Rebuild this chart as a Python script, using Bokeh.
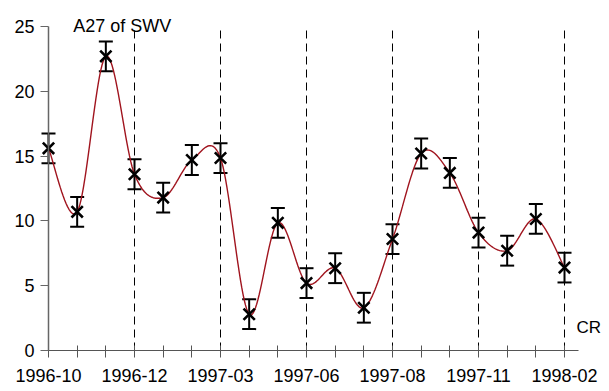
from bokeh.plotting import figure
from bokeh.models import (ColumnDataSource, Range1d, FixedTicker, Whisker, TeeHead, Label)
from bokeh.embed import file_html
from bokeh.resources import INLINE
import numpy as np

# Carrington rotation index along the x axis and the A27 index of solar wind velocity
cr_index = list(range(19))
a27_values = [15.6, 10.7, 22.7, 13.6, 11.8, 14.7, 14.85, 2.8, 9.85, 5.2,
              6.35, 3.3, 8.6, 15.2, 13.7, 9.1, 7.7, 10.15, 6.4]
a27_error = [1.15] * 19

# Dated ticks every third rotation
date_positions = [0, 3, 6, 9, 12, 15, 18]
date_labels = ["1996-10", "1996-12", "1997-03", "1997-06", "1997-08", "1997-11", "1998-02"]
y_ticks = [0, 5, 10, 15, 20, 25]

FONT = "Liberation Sans"
W, H = 609, 391
# Plot area geometry (pixels): origin and scale of the data axes
X0_PX, DX_PX = 48.0, 28.667
Y0_PX, DY_PX = 350.0, 12.96
X_AXIS_END = 18.49

# The frame spans the whole canvas so that marks near the axes are not cut
x_range = Range1d(-X0_PX / DX_PX, (W - X0_PX) / DX_PX)
y_range = Range1d(-(H - Y0_PX) / DY_PX, Y0_PX / DY_PX)

p = figure(width=W, height=H, output_backend="svg", toolbar_location=None,
           x_range=x_range, y_range=y_range,
           min_border_left=0, min_border_right=0, min_border_top=0, min_border_bottom=0)
p.outline_line_color = None
p.xgrid.grid_line_color = None
p.ygrid.grid_line_color = None
p.background_fill_color = "white"
p.border_fill_color = "white"

# Vertical dashed markers at the dated rotations
dashed = [d for d in date_positions if d != 0]
p.segment(x0=dashed, y0=[0] * len(dashed), x1=dashed, y1=[25] * len(dashed),
          line_color="black", line_width=1, line_dash="8 5")

# Smooth curve through the points (Catmull-Rom style Bezier segments)
xs = np.array(cr_index, dtype=float)
ys = np.array(a27_values, dtype=float)
n = len(xs)
cx, cy = [], []
t = np.linspace(0, 1, 24)
for i in range(n - 1):
    p0 = np.array([xs[max(i - 1, 0)], ys[max(i - 1, 0)]])
    p1 = np.array([xs[i], ys[i]])
    p2 = np.array([xs[i + 1], ys[i + 1]])
    p3 = np.array([xs[min(i + 2, n - 1)], ys[min(i + 2, n - 1)]])
    c1 = p1 + (p2 - p0) / 6.0
    c2 = p2 - (p3 - p1) / 6.0
    for tt in (t if i == 0 else t[1:]):
        b = ((1 - tt) ** 3) * p1 + 3 * ((1 - tt) ** 2) * tt * c1 + 3 * (1 - tt) * tt ** 2 * c2 + tt ** 3 * p2
        cx.append(b[0])
        cy.append(b[1])
p.line(cx, cy, line_color="#a0141e", line_width=1.4)

src = ColumnDataSource(dict(
    x=cr_index,
    y=a27_values,
    upper=[v + e for v, e in zip(a27_values, a27_error)],
    lower=[v - e for v, e in zip(a27_values, a27_error)],
))

whisker = Whisker(source=src, base="x", upper="upper", lower="lower",
                  line_color="black", line_width=2,
                  upper_head=TeeHead(size=14, line_width=2, line_color="black"),
                  lower_head=TeeHead(size=14, line_width=2, line_color="black"))
p.add_layout(whisker)

p.scatter(x="x", y="y", source=src, marker="x", size=16, line_width=2.6, line_color="black")

# Axes crossing at the origin
p.xaxis.fixed_location = 0
p.xaxis.bounds = (0, X_AXIS_END)
p.xaxis.ticker = FixedTicker(ticks=cr_index)
p.xaxis.major_label_overrides = {i: "" for i in cr_index}
p.xaxis.major_label_overrides.update({pos: lab for pos, lab in zip(date_positions, date_labels)})
p.xaxis.minor_tick_line_color = None
p.xaxis.major_tick_in = 5
p.xaxis.major_tick_out = 7
p.xaxis.axis_line_color = "#555555"
p.xaxis.major_tick_line_color = "#555555"
p.xaxis.major_label_standoff = 11
p.xaxis.major_label_text_font = FONT
p.xaxis.major_label_text_font_size = "18px"
p.xaxis.major_label_text_color = "black"

p.yaxis.fixed_location = 0
p.yaxis.bounds = (0, 25)
p.yaxis.ticker = FixedTicker(ticks=y_ticks)
p.yaxis.minor_tick_line_color = None
p.yaxis.major_tick_in = 0
p.yaxis.major_tick_out = 8
p.yaxis.axis_line_color = "#666666"
p.yaxis.axis_line_width = 1.5
p.yaxis.major_tick_line_color = "#666666"
p.yaxis.major_label_standoff = 6
p.yaxis.major_label_text_font = FONT
p.yaxis.major_label_text_font_size = "18px"
p.yaxis.major_label_text_color = "black"

p.add_layout(Label(x=0.86, y=25, y_offset=1, text="A27 of SWV", text_font=FONT,
                   text_font_size="18px", text_color="black", text_baseline="alphabetic"))
p.add_layout(Label(x=18.42, y=1.8, text="CR", text_font=FONT,
                   text_font_size="17px", text_color="black", text_baseline="alphabetic"))

open("out.html", "w").write(file_html(p, INLINE))
